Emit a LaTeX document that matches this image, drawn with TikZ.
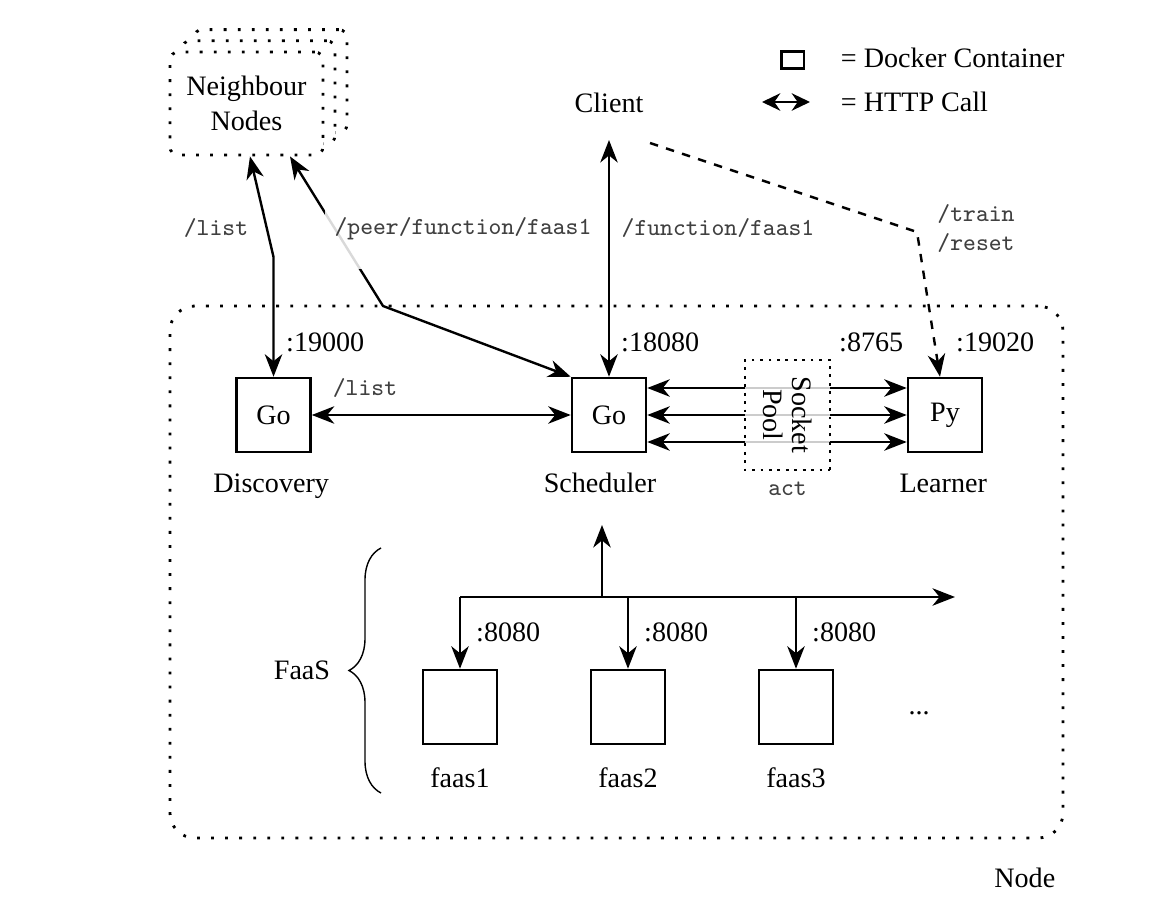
\documentclass[tikz,border=0pt]{standalone}
\usepackage{fontspec}
\setmainfont{Liberation Serif}
\usetikzlibrary{arrows.meta,decorations.pathreplacing}

\tikzset{
  cont/.style={draw,line width=0.9pt,minimum size=0.925cm,inner sep=0pt},
  nbox/.style={draw,loosely dotted,line width=1pt,fill=white,rounded corners=0.1cm,
    minimum width=1.9125cm,minimum height=1.2875cm,align=center},
  urlbl/.style={font=\fontsize{8.7}{10.4}\selectfont\ttfamily,text=black!75},
  port/.style={anchor=base west,inner sep=0pt},
  title/.style={anchor=base},
}

\begin{document}
\begin{tikzpicture}[line width=0.85pt,>={Stealth[length=8pt,width=6.2pt,inset=2.5pt]},
  font=\fontsize{10}{12.6}\selectfont]
\useasboundingbox (0,0) rectangle (14.45,-11.4625);
% legend
\node[draw,line width=0.9pt,minimum width=0.28cm,minimum height=0.21cm,inner sep=0pt] (lgbox) at (9.91,-0.75) {};
\node[anchor=west] (lgdock) at (10.38,-0.725) {= Docker Container};
\coordinate (lgA) at (9.525,-1.275);
\coordinate (lgB) at (10.125,-1.275);
\draw[{Stealth[length=6.5pt,width=6.2pt]}-{Stealth[length=6.5pt,width=6.2pt]}] (lgA) -- (lgB);
\node[anchor=west] (lghttp) at (10.38,-1.275) {= HTTP Call};
% outside world
\node[nbox] (nbr3) at (3.381,-1.014) {};
\node[nbox] (nbr2) at (3.231,-1.154) {};
\node[nbox] (nbr) at (3.081,-1.294) {Neighbour\\Nodes};
\node (client) at (7.6125,-1.2875) {Client};
% node boundary
\node[draw,loosely dotted,line width=1pt,rounded corners=0.31cm,
  minimum width=11.1625cm,minimum height=6.65cm] (nodebox) at (7.70625,-7.15) {};
\node (nodelbl) at (12.81,-10.975) {Node};
% containers
\node[cont] (disc) at (3.419,-5.1875) {Go};
\node[cont] (sched) at (7.6125,-5.1875) {Go};
\node[cont] (learn) at (11.8125,-5.1875) {Py};
\node[title] at (3.39,-6.1625) {Discovery};
\node[title] at (7.5,-6.1625) {Scheduler};
\node[title] at (11.79,-6.1625) {Learner};
\node[port] at (3.5625,-4.4) {:19000};
\node[port] at (7.75,-4.4) {:18080};
\node[port] at (10.475,-4.4) {:8765};
\node[port] at (11.9375,-4.4) {:19020};
% calls from outside
\coordinate (nbA) at ([xshift=0.044cm]nbr.south);
\coordinate (nbB) at ([xshift=0.544cm]nbr.south);
\coordinate (kinkL) at (3.419,-3.2125);
\coordinate (kinkP) at (4.7875,-3.825);
\coordinate (clTop) at (7.6125,-1.75);
\coordinate (dashA) at (8.125,-1.7875);
\coordinate (dashK) at (11.4625,-2.9);
\draw[<->] (nbA) -- (kinkL) -- (disc.north);
\draw[<->] (nbB) -- (kinkP) -- (sched.north west);
\draw[<->] (clTop) -- (sched.north);
\draw[->,dashed] (dashA) -- (dashK) -- ([xshift=-0.0625cm]learn.north);
\node[urlbl] at (2.7,-2.85) {/list};
\node[urlbl,anchor=base,text depth=0.32cm,fill=white,fill opacity=0.85,text opacity=1] at (5.7875,-2.93) {/peer/function/faas1};
\node[urlbl] at (8.975,-2.85) {/function/faas1};
\node[urlbl,align=left] at (12.2,-2.856) {/train\\/reset};
% inside the node
\draw[<->] (disc) -- (sched);
\node[urlbl] at (4.5625,-4.85) {/list};
\foreach \dy in {0.3375,0,-0.3375}
  \draw[<->] ([yshift=\dy cm]sched.east) -- ([yshift=\dy cm]learn.west);
\node[draw,dotted,line width=1pt,fill=white,fill opacity=0.8,text opacity=1,rotate=-90,
  minimum width=1.375cm,minimum height=1.0625cm,align=center,
  font=\fontsize{10}{10.3}\selectfont] (pool) at (9.844,-5.1875) {Socket\\Pool};
\node[urlbl,anchor=base] at (9.844,-6.19) {act};
% faas containers
\node[cont] (faasA) at (5.75,-8.8375) {};
\node[cont] (faasB) at (7.85,-8.8375) {};
\node[cont] (faasC) at (9.95,-8.8375) {};
\node[title] at (5.75,-9.85) {faas1};
\node[title] at (7.85,-9.85) {faas2};
\node[title] at (9.95,-9.85) {faas3};
\node (more) at (11.49,-8.92) {...};
\coordinate (busL) at (5.75,-7.4625);
\coordinate (busR) at (11.9375,-7.4625);
\coordinate (busM) at (7.525,-7.4625);
\coordinate (busUp) at (7.525,-6.5625);
\draw[->] (busL) -- (busR);
\draw[->] (busM) -- (busUp);
\foreach \f in {faasA,faasB,faasC}
  \draw[->] (\f.north |- busL) -- (\f.north);
\node[port] at (5.9375,-8.025) {:8080};
\node[port] at (8.0375,-8.025) {:8080};
\node[port] at (10.1375,-8.025) {:8080};
\draw[decorate,decoration={brace,amplitude=0.4cm},line width=0.5pt] (4.7625,-9.9125) -- (4.7625,-6.85);
\node (faaslbl) at (3.775,-8.375) {FaaS};
\end{tikzpicture}
\end{document}
